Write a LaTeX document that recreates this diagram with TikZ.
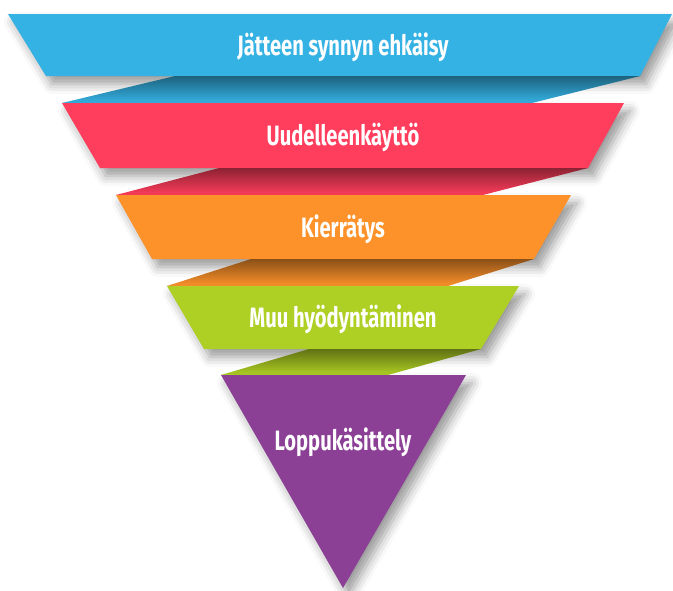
\documentclass[tikz,border=0pt]{standalone}
\usepackage{fontspec}
\usepackage{xcolor}
\usepackage{tikz}
\usetikzlibrary{shadows.blur}
\newfontfamily\bandfont{Fira Sans}[FakeStretch=0.72]
\definecolor{preventcolor}{RGB}{53, 178, 228}
\definecolor{reusecolor}{RGB}{255, 61, 92}
\definecolor{recyclecolor}{RGB}{253, 146, 43}
\definecolor{recovercolor}{RGB}{174, 207, 36}
\definecolor{disposecolor}{RGB}{139, 64, 150}

\begin{document}
\begin{tikzpicture}[
    x=1pt, y=-1pt,
    band/.style={blur shadow={shadow xshift=6pt, shadow yshift=-8pt, shadow blur radius=10pt, shadow opacity=40}},
    bandtext/.style={anchor=base, text=white, inner sep=0pt, font=\bandfont\bfseries\fontsize{28}{30}\selectfont},
    fold/.style={top color=#1!55!black, bottom color=#1}
]
    \useasboundingbox (0,0) rectangle (673,590);

    % bands from top to bottom, each fold drawn after the band above it
    \fill[band, preventcolor] (8,14) -- (672,14) -- (640,76) -- (46,76) -- cycle;
    \shade[fold=preventcolor] (175,76) -- (640,76) -- (532,103) -- (62,103) -- cycle;
    \fill[band, reusecolor] (62,103) -- (624,103) -- (588,168) -- (100,168) -- cycle;
    \shade[fold=reusecolor] (219,168) -- (588,168) -- (483,195) -- (116,195) -- cycle;
    \fill[band, recyclecolor] (116,195) -- (571,195) -- (534,259) -- (152,259) -- cycle;
    \shade[fold=recyclecolor] (251,259) -- (534,259) -- (448,286) -- (167,286) -- cycle;
    \fill[band, recovercolor] (167,286) -- (519,286) -- (481,349) -- (204,349) -- cycle;
    \shade[fold=recovercolor] (309,349) -- (481,349) -- (388,375) -- (221,375) -- cycle;
    \fill[band, disposecolor] (221,375) -- (466,375) -- (343,588) -- cycle;

    \node[bandtext] (prevent) at (343,55) {Jätteen synnyn ehkäisy};
    \node[bandtext] (reuse) at (343,145) {Uudelleenkäyttö};
    \node[bandtext] (recycle) at (343,237) {Kierrätys};
    \node[bandtext] (recover) at (343,327) {Muu hyödyntäminen};
    \node[bandtext] (dispose) at (343,450) {Loppukäsittely};
\end{tikzpicture}
\end{document}
